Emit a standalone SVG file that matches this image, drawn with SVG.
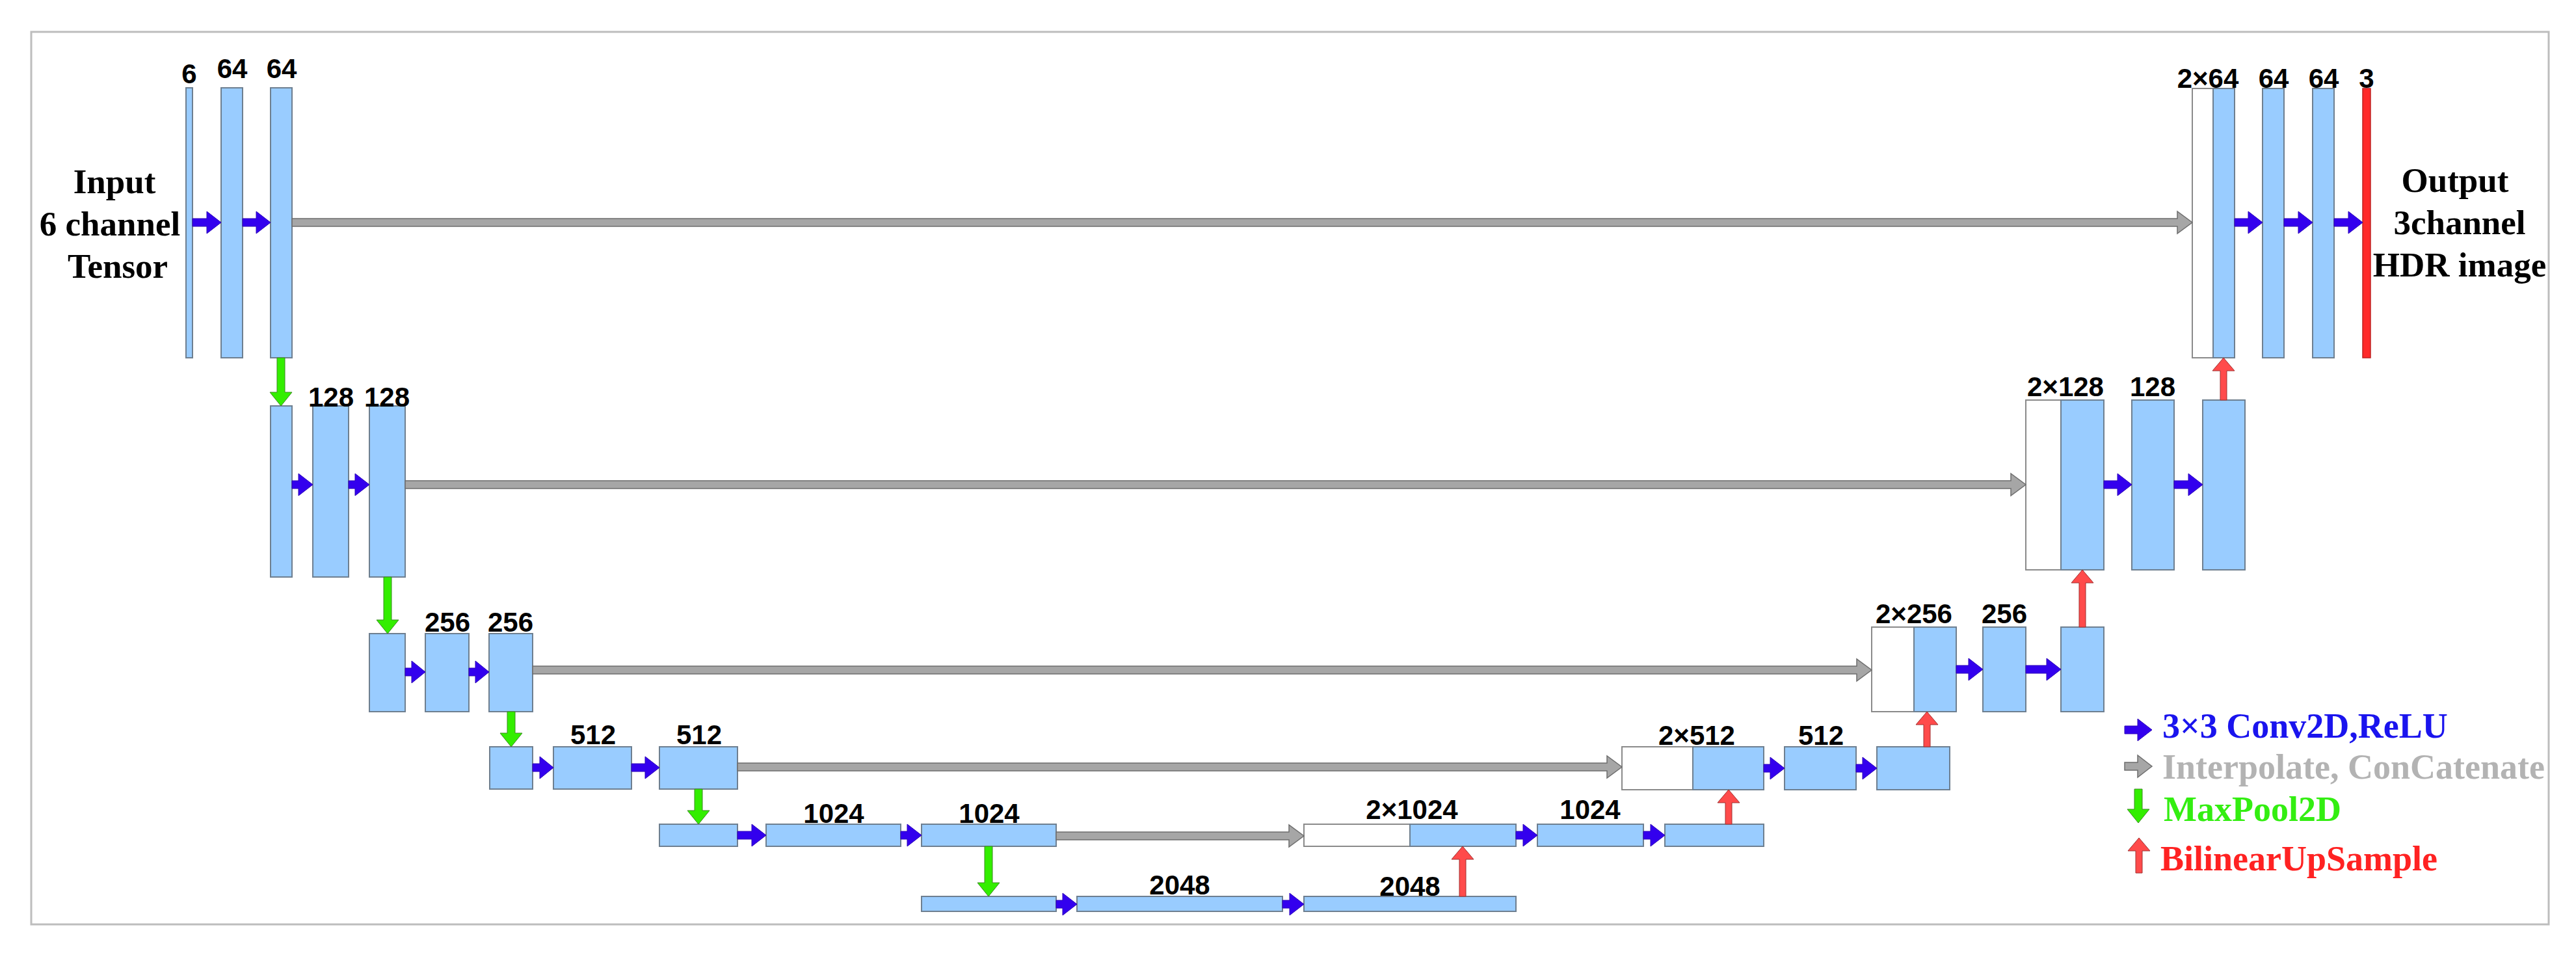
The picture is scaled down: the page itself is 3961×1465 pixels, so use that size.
<svg xmlns="http://www.w3.org/2000/svg" width="3961" height="1465" viewBox="0 0 3961 1465">
<style>
.frame{fill:#fff;stroke:#bdbdbd;stroke-width:3}
.b{fill:#99ccff;stroke:#6e7f90;stroke-width:2}
.w{fill:#ffffff;stroke:#8a8a8a;stroke-width:2}
.r{fill:#ff2a2a;stroke:#c02020;stroke-width:1.5}
.lbl{font-family:"Liberation Sans",Arial,sans-serif;font-weight:bold;font-size:42px;fill:#000;text-anchor:middle}
.io{font-family:"Liberation Serif","Times New Roman",serif;font-weight:bold;font-size:53px;fill:#000;text-anchor:middle}
.lg{font-family:"Liberation Serif","Times New Roman",serif;font-weight:bold;font-size:54px}
.conv{fill:#3300ee;stroke:#2a00b8;stroke-width:1}
.skip{fill:#a6a6a6;stroke:#6e6e6e;stroke-width:1.5}
.pool{fill:#33ee00;stroke:#3a8a20;stroke-width:1}
.up{fill:#ff4b4b;stroke:#a03030;stroke-width:1}
</style>
<rect class="frame" x="48" y="49" width="3871" height="1372"/>

<g id="input-label">
<text class="io" x="176" y="297">Input</text>
<text class="io" x="169" y="362">6 channel</text>
<text class="io" x="181" y="427">Tensor</text>
</g>
<g id="output-label">
<text class="io" x="3775" y="295">Output</text>
<text class="io" x="3782" y="360">3channel</text>
<text class="io" x="3782" y="425">HDR image</text>
</g>

<!-- Encoder level 1 -->
<g id="e1a"><rect class="b" x="286" y="135" width="10" height="415"/><text class="lbl" x="291" y="128">6</text></g>
<g id="e1b"><rect class="b" x="340" y="135" width="33" height="415"/><text class="lbl" x="357" y="120">64</text></g>
<g id="e1c"><rect class="b" x="416" y="135" width="33" height="415"/><text class="lbl" x="433" y="120">64</text></g>
<!-- Encoder level 2 -->
<g id="e2a"><rect class="b" x="416" y="624" width="33" height="263"/></g>
<g id="e2b"><rect class="b" x="481" y="624" width="55" height="263"/><text class="lbl" x="509" y="625">128</text></g>
<g id="e2c"><rect class="b" x="568" y="624" width="55" height="263"/><text class="lbl" x="595" y="625">128</text></g>
<!-- Encoder level 3 -->
<g id="e3a"><rect class="b" x="568" y="974" width="55" height="120"/></g>
<g id="e3b"><rect class="b" x="654" y="974" width="67" height="120"/><text class="lbl" x="688" y="971">256</text></g>
<g id="e3c"><rect class="b" x="752" y="974" width="67" height="120"/><text class="lbl" x="785" y="971">256</text></g>
<!-- Encoder level 4 -->
<g id="e4a"><rect class="b" x="753" y="1148" width="66" height="65"/></g>
<g id="e4b"><rect class="b" x="851" y="1148" width="120" height="65"/><text class="lbl" x="912" y="1144">512</text></g>
<g id="e4c"><rect class="b" x="1014" y="1148" width="120" height="65"/><text class="lbl" x="1075" y="1144">512</text></g>
<!-- Encoder level 5 -->
<g id="e5a"><rect class="b" x="1014" y="1267" width="120" height="34"/></g>
<g id="e5b"><rect class="b" x="1178" y="1267" width="207" height="34"/><text class="lbl" x="1282" y="1265">1024</text></g>
<g id="e5c"><rect class="b" x="1417" y="1267" width="207" height="34"/><text class="lbl" x="1521" y="1265">1024</text></g>
<!-- Bottleneck level 6 -->
<g id="b6a"><rect class="b" x="1417" y="1378" width="207" height="23"/></g>
<g id="b6b"><rect class="b" x="1656" y="1378" width="316" height="23"/><text class="lbl" x="1814" y="1375">2048</text></g>
<g id="b6c"><rect class="b" x="2005" y="1378" width="326" height="23"/><text class="lbl" x="2168" y="1377">2048</text></g>
<!-- Decoder level 5 -->
<g id="d5a"><rect class="w" x="2005" y="1267" width="163" height="34"/><rect class="b" x="2168" y="1267" width="163" height="34"/><text class="lbl" x="2171" y="1259">2×1024</text></g>
<g id="d5b"><rect class="b" x="2364" y="1267" width="163" height="34"/><text class="lbl" x="2445" y="1259">1024</text></g>
<g id="d5c"><rect class="b" x="2560" y="1267" width="152" height="34"/></g>
<!-- Decoder level 4 -->
<g id="d4a"><rect class="w" x="2494" y="1148" width="109" height="66"/><rect class="b" x="2603" y="1148" width="109" height="66"/><text class="lbl" x="2609" y="1145">2×512</text></g>
<g id="d4b"><rect class="b" x="2744" y="1148" width="110" height="66"/><text class="lbl" x="2800" y="1145">512</text></g>
<g id="d4c"><rect class="b" x="2886" y="1148" width="112" height="66"/></g>
<!-- Decoder level 3 -->
<g id="d3a"><rect class="w" x="2878" y="964" width="65" height="130"/><rect class="b" x="2943" y="964" width="65" height="130"/><text class="lbl" x="2943" y="958">2×256</text></g>
<g id="d3b"><rect class="b" x="3049" y="964" width="66" height="130"/><text class="lbl" x="3082" y="958">256</text></g>
<g id="d3c"><rect class="b" x="3169" y="964" width="66" height="130"/></g>
<!-- Decoder level 2 -->
<g id="d2a"><rect class="w" x="3115" y="615" width="54" height="261"/><rect class="b" x="3169" y="615" width="66" height="261"/><text class="lbl" x="3176" y="609">2×128</text></g>
<g id="d2b"><rect class="b" x="3278" y="615" width="65" height="261"/><text class="lbl" x="3310" y="609">128</text></g>
<g id="d2c"><rect class="b" x="3387" y="615" width="65" height="261"/></g>
<!-- Decoder level 1 -->
<g id="d1a"><rect class="w" x="3371" y="136" width="32" height="414"/><rect class="b" x="3403" y="136" width="33" height="414"/><text class="lbl" x="3395" y="135">2×64</text></g>
<g id="d1b"><rect class="b" x="3479" y="136" width="33" height="414"/><text class="lbl" x="3496" y="135">64</text></g>
<g id="d1c"><rect class="b" x="3556" y="136" width="33" height="414"/><text class="lbl" x="3573" y="135">64</text></g>
<g id="out"><rect class="r" x="3633" y="136" width="12" height="414"/><text class="lbl" x="3639" y="135">3</text></g>

<g id="connectors">
<!-- skip connections -->
<polygon class="skip" points="449,336 3348,336 3348,325 3371,342 3348,359 3348,348 449,348"/>
<polygon class="skip" points="623,739 3092,739 3092,728 3115,745 3092,762 3092,751 623,751"/>
<polygon class="skip" points="819,1024 2855,1024 2855,1013 2878,1030 2855,1047 2855,1036 819,1036"/>
<polygon class="skip" points="1134,1173 2471,1173 2471,1162 2494,1179 2471,1196 2471,1185 1134,1185"/>
<polygon class="skip" points="1624,1279 1982,1279 1982,1268 2005,1285 1982,1302 1982,1291 1624,1291"/>
<!-- conv arrows -->
<polygon class="conv" points="296,336 318,336 318,325 340,342 318,359 318,348 296,348"/>
<polygon class="conv" points="373,336 394,336 394,325 416,342 394,359 394,348 373,348"/>
<polygon class="conv" points="449,739 459,739 459,728 481,745 459,762 459,751 449,751"/>
<polygon class="conv" points="536,739 546,739 546,728 568,745 546,762 546,751 536,751"/>
<polygon class="conv" points="623,1027 633,1027 633,1016 654,1033 633,1050 633,1039 623,1039"/>
<polygon class="conv" points="721,1027 731,1027 731,1016 752,1033 731,1050 731,1039 721,1039"/>
<polygon class="conv" points="819,1174 830,1174 830,1163 851,1180 830,1197 830,1186 819,1186"/>
<polygon class="conv" points="971,1174 992,1174 992,1163 1014,1180 992,1197 992,1186 971,1186"/>
<polygon class="conv" points="1134,1278 1156,1278 1156,1267 1178,1284 1156,1301 1156,1290 1134,1290"/>
<polygon class="conv" points="1385,1278 1395,1278 1395,1267 1417,1284 1395,1301 1395,1290 1385,1290"/>
<polygon class="conv" points="1624,1384 1634,1384 1634,1373 1656,1390 1634,1407 1634,1396 1624,1396"/>
<polygon class="conv" points="1972,1384 1983,1384 1983,1373 2005,1390 1983,1407 1983,1396 1972,1396"/>
<polygon class="conv" points="2331,1278 2342,1278 2342,1267 2364,1284 2342,1301 2342,1290 2331,1290"/>
<polygon class="conv" points="2527,1278 2538,1278 2538,1267 2560,1284 2538,1301 2538,1290 2527,1290"/>
<polygon class="conv" points="2712,1175 2722,1175 2722,1164 2744,1181 2722,1198 2722,1187 2712,1187"/>
<polygon class="conv" points="2854,1175 2864,1175 2864,1164 2886,1181 2864,1198 2864,1187 2854,1187"/>
<polygon class="conv" points="3008,1023 3027,1023 3027,1012 3049,1029 3027,1046 3027,1035 3008,1035"/>
<polygon class="conv" points="3115,1023 3147,1023 3147,1012 3169,1029 3147,1046 3147,1035 3115,1035"/>
<polygon class="conv" points="3235,739 3256,739 3256,728 3278,745 3256,762 3256,751 3235,751"/>
<polygon class="conv" points="3343,739 3365,739 3365,728 3387,745 3365,762 3365,751 3343,751"/>
<polygon class="conv" points="3436,336 3457,336 3457,325 3479,342 3457,359 3457,348 3436,348"/>
<polygon class="conv" points="3512,336 3534,336 3534,325 3556,342 3534,359 3534,348 3512,348"/>
<polygon class="conv" points="3589,336 3611,336 3611,325 3633,342 3611,359 3611,348 3589,348"/>
<!-- max pool arrows -->
<polygon class="pool" points="426,550 438,550 438,603 449,603 432,624 415,603 426,603"/>
<polygon class="pool" points="590,887 602,887 602,953 613,953 596,974 579,953 590,953"/>
<polygon class="pool" points="780,1094 792,1094 792,1127 803,1127 786,1148 769,1127 780,1127"/>
<polygon class="pool" points="1068,1213 1080,1213 1080,1246 1091,1246 1074,1267 1057,1246 1068,1246"/>
<polygon class="pool" points="1514,1301 1526,1301 1526,1357 1537,1357 1520,1378 1503,1357 1514,1357"/>
<!-- upsample arrows -->
<polygon class="up" points="2244,1378 2254,1378 2254,1321 2266,1321 2249,1301 2232,1321 2244,1321"/>
<polygon class="up" points="2653,1267 2663,1267 2663,1234 2675,1234 2658,1214 2641,1234 2653,1234"/>
<polygon class="up" points="2958,1148 2968,1148 2968,1114 2980,1114 2963,1094 2946,1114 2958,1114"/>
<polygon class="up" points="3197,964 3207,964 3207,896 3219,896 3202,876 3185,896 3197,896"/>
<polygon class="up" points="3414,615 3424,615 3424,570 3436,570 3419,550 3402,570 3414,570"/>
</g>

<g id="legend">
<polygon class="conv" points="3267,1116 3287,1116 3287,1105 3309,1122 3287,1139 3287,1128 3267,1128"/>
<text class="lg" x="3325" y="1134" fill="#1a14ee">3×3 Conv2D,ReLU</text>
<polygon class="skip" points="3267,1172 3287,1172 3287,1161 3309,1178 3287,1195 3287,1184 3267,1184"/>
<text class="lg" x="3325" y="1197" fill="#b3b3b3">Interpolate, ConCatenate</text>
<polygon class="pool" points="3282,1213 3294,1213 3294,1244 3305,1244 3288,1265 3271,1244 3282,1244"/>
<text class="lg" x="3327" y="1262" fill="#33ee11">MaxPool2D</text>
<polygon class="up" points="3284,1342 3294,1342 3294,1308 3306,1308 3289,1288 3272,1308 3284,1308"/>
<text class="lg" x="3322" y="1338" fill="#ff2222">BilinearUpSample</text>
</g>
</svg>
